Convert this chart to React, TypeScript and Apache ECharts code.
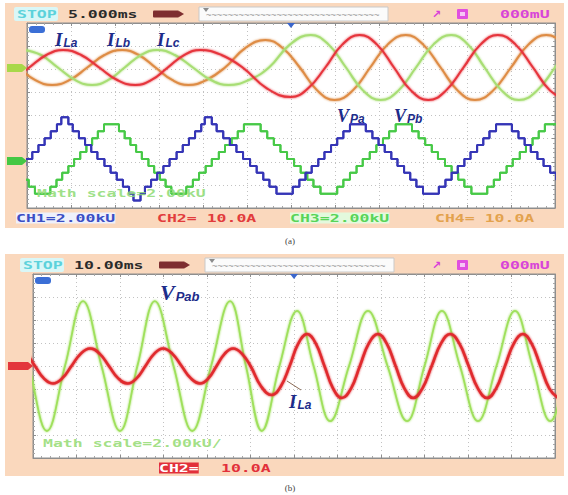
import React, { useEffect, useRef } from "react";
import * as echarts from "echarts";

type P = [number, number];

// ---------------- Panel (a): 5 ms/div (0..60 ms), currents 10 A/div, voltages 2 kV/div ----------------
const timeRangeA = [0, 60, 5];
const timeRangeB = [0, 120, 10];

// phase currents [ms, A]
const ilaA: P[] = [[-3.6, -7.6], [-1.7, -5.4], [0.25, 0], [2.2, 5.4], [4.1, 7.6], [6.15, 5.4], [8.2, 0], [10.25, -5.4], [12.3, -7.6], [14.15, -5.4], [16.0, 0], [17.85, 5.4], [19.7, 7.6], [22.1, 5.4], [24.5, 0], [27.25, -9.0], [30.0, -12.8], [31.95, -9.0], [33.9, 0], [35.85, 10.0], [37.8, 14.1], [39.75, 10.0], [41.7, 0], [43.65, -10.0], [45.6, -14.1], [47.6, -10.0], [49.6, 0], [51.55, 10.0], [53.5, 14.1], [55.5, 10.0], [57.5, 0], [59.45, -10.0], [61.4, -14.1]];
const ilbA: P[] = [[-4.9, 7.6], [-2.95, 5.4], [-1.0, 0], [0.9, -5.4], [2.85, -7.6], [4.85, -5.4], [6.85, 0], [8.8, 5.4], [10.8, 7.6], [12.7, 5.4], [14.6, 0], [16.5, -5.4], [18.35, -7.6], [20.4, -5.4], [22.5, 0], [24.8, 8.4], [27.1, 11.9], [29.05, 8.4], [31.0, 0], [33.0, -10.0], [34.95, -14.1], [37.0, -10.0], [39.0, 0], [41.0, 10.0], [43.05, 14.1], [45.0, 10.0], [47.0, 0], [48.95, -10.0], [50.9, -14.1], [52.95, -10.0], [55.0, 0], [57.0, 10.0], [59.0, 14.1], [61.0, 10.0], [63.0, 0]];
const ilcA: P[] = [[-0.35, 7.6], [1.6, 5.4], [3.5, 0], [5.45, -5.4], [7.4, -7.6], [9.25, -5.4], [11.1, 0], [12.95, 5.4], [14.8, 7.6], [16.8, 5.4], [18.85, 0], [20.9, -5.4], [22.9, -7.6], [25.2, -5.4], [27.5, 0], [29.9, 10.0], [32.25, 14.1], [34.25, 10.0], [36.25, 0], [38.2, -10.0], [40.2, -14.1], [42.2, -10.0], [44.2, 0], [46.2, 10.0], [48.2, 14.1], [50.1, 10.0], [52.0, 0], [53.95, -10.0], [55.9, -14.1], [57.95, -10.0], [60.0, 0], [61.95, 10.0], [63.9, 14.1]];

// multilevel phase voltages [ms, kV] (level holds until next point)
const vpaA: P[] = [[-5, -3.0], [-3.0, -2.4], [-2.3, -1.8], [-1.6, -1.2], [-0.9, -0.6], [-0.2, 0], [0.6, 0.6], [1.3, 1.2], [2.0, 1.8], [2.7, 2.4], [3.4, 3.0], [3.9, 3.6], [4.7, 3.0],
  [5.2, 2.4], [5.9, 1.8], [6.6, 1.2], [7.3, 0.6], [8.0, 0], [8.8, -0.6], [9.5, -1.2], [10.2, -1.8], [10.9, -2.4], [11.6, -3.0], [12.1, -3.6], [12.9, -3.0],
  [13.4, -2.4], [14.1, -1.8], [14.8, -1.2], [15.5, -0.6], [16.2, 0], [17.0, 0.6], [17.7, 1.2], [18.4, 1.8], [19.1, 2.4], [19.8, 3.0], [20.2, 3.6], [21.0, 3.0],
  [21.55, 2.4], [22.3, 1.8], [23.05, 1.2], [23.8, 0.6], [24.55, 0], [25.35, -0.6], [26.1, -1.2], [26.85, -1.8], [27.55, -2.4], [28.35, -3.0],
  [30.2, -2.4], [30.95, -1.8], [31.65, -1.2], [32.35, -0.6], [33.1, 0], [33.8, 0.6], [34.55, 1.2], [35.25, 1.8], [35.95, 2.4], [36.7, 3.0],
  [38.5, 2.4], [39.25, 1.8], [39.95, 1.2], [40.65, 0.6], [41.4, 0], [42.1, -0.6], [42.85, -1.2], [43.55, -1.8], [44.25, -2.4], [45.0, -3.0],
  [46.8, -2.4], [47.55, -1.8], [48.25, -1.2], [48.95, -0.6], [49.7, 0], [50.4, 0.6], [51.15, 1.2], [51.85, 1.8], [52.55, 2.4], [53.3, 3.0],
  [55.1, 2.4], [55.85, 1.8], [56.55, 1.2], [57.25, 0.6], [58.0, 0], [58.7, -0.6], [59.45, -1.2], [60.15, -1.8], [60.85, -2.4], [61.6, -3.0]];
const vpbA: P[] = [[-7, 3.0], [-5.5, 2.4], [-4.8, 1.8], [-4.1, 1.2], [-3.4, 0.6], [-2.7, 0], [-1.9, -0.6], [-1.2, -1.2], [-0.5, -1.8], [0.2, -2.4], [0.9, -3.0],
  [2.65, -2.4], [3.35, -1.8], [4.0, -1.2], [4.7, -0.6], [5.35, 0], [6.05, 0.6], [6.75, 1.2], [7.4, 1.8], [8.05, 2.4], [8.75, 3.0],
  [10.45, 2.4], [11.1, 1.8], [11.75, 1.2], [12.4, 0.6], [13.05, 0], [13.8, -0.6], [14.45, -1.2], [15.1, -1.8], [15.75, -2.4], [16.4, -3.0],
  [18.1, -2.4], [18.85, -1.8], [19.55, -1.2], [20.3, -0.6], [21.0, 0], [21.8, 0.6], [22.5, 1.2], [23.25, 1.8], [23.95, 2.4], [24.65, 3.0],
  [26.55, 2.4], [27.3, 1.8], [28.05, 1.2], [28.8, 0.6], [29.55, 0], [30.35, -0.6], [31.1, -1.2], [31.85, -1.8], [32.55, -2.4], [33.35, -3.0],
  [35.25, -2.4], [35.95, -1.8], [36.7, -1.2], [37.45, -0.6], [38.15, 0], [38.95, 0.6], [39.7, 1.2], [40.45, 1.8], [41.15, 2.4], [41.9, 3.0],
  [43.75, 2.4], [44.5, 1.8], [45.25, 1.2], [46.0, 0.6], [46.7, 0], [47.5, -0.6], [48.25, -1.2], [49.0, -1.8], [49.7, -2.4], [50.5, -3.0],
  [52.3, -2.4], [53.05, -1.8], [53.75, -1.2], [54.5, -0.6], [55.2, 0], [56.0, 0.6], [56.7, 1.2], [57.45, 1.8], [58.15, 2.4], [58.85, 3.0], [62, 3.0]];

// ---------------- Panel (b): 10 ms/div (0..120 ms), current 10 A/div, math 2 kV/div ----------------
const ilaB: P[] = [[-3.7, 7.6], [-1.6, 5.4], [0.45, 0], [2.5, -5.4], [4.6, -7.6], [6.7, -5.4], [8.85, 0], [11.0, 5.4], [13.1, 7.6], [15.3, 5.4], [17.45, 0], [19.6, -5.4], [21.8, -7.6], [23.8, -5.4], [25.85, 0], [27.9, 5.4], [29.9, 7.6], [32.0, 5.4], [34.15, 0], [36.3, -5.4], [38.4, -7.6], [40.3, -5.4], [42.2, 0], [44.1, 5.4], [46.0, 7.6], [48.0, 5.4], [50.0, 0], [52.45, -8.9], [54.9, -12.6], [56.95, -8.9], [59.0, 0], [61.0, 9.8], [63.0, 13.9], [65.0, 9.8], [67.0, 0], [69.0, -9.8], [71.0, -13.9], [73.1, -9.8], [75.15, 0], [77.2, 9.8], [79.3, 13.9], [81.3, 9.8], [83.35, 0], [85.4, -9.8], [87.4, -13.9], [89.5, -9.8], [91.65, 0], [93.8, 9.8], [95.9, 13.9], [98.0, 9.8], [100.15, 0], [102.3, -9.8], [104.4, -13.9], [106.45, -9.8], [108.5, 0], [110.55, 9.8], [112.6, 13.9], [114.6, 9.8], [116.65, 0], [118.7, -9.8], [120.7, -13.9]];
const vpabB: P[] = [[-5.1, 5.65], [-0.95, 0], [3.2, -5.65], [7.35, 0], [11.5, 5.65], [15.75, 0], [20.0, -5.65], [24.0, 0], [28.0, 5.65], [32.3, 0], [36.6, -5.65], [40.95, 0], [45.3, 5.65], [48.95, 0], [52.6, -5.65], [56.65, 0], [60.7, 4.8], [64.5, 0], [68.3, -4.8], [72.65, 0], [77.0, 4.8], [81.5, 0], [86.0, -4.8], [90.0, 0], [94.0, 4.8], [98.15, 0], [102.3, -4.8], [106.55, 0], [110.8, 4.8], [114.85, 0], [118.9, -4.8], [122.95, 0], [127, 4.8]];

// per-channel vertical windows (min, max) so each trace sits on its ground marker
const curRangeA = [-60.76, 19.24];
const voltRangeA = [-4.24, 11.76];
const curRangeB = [-40, 40];
const mathRangeB = [-8, 8];

const chLabelsA = ["CH1=2.00kU", "CH2= 10.0A", "CH3=2.00kU", "CH4= 10.0A"];
const chLabelB = ["CH2=", "10.0A"];
const timebase = ["5.000ms", "10.00ms"];
const trigText = "000mU";
const mathText = ["Math scale=2.00kU", "Math scale=2.00kU/"];

const NAVY = "#1d2c8a";
const PEACH = "#fad8bd";
const MONO = '"DejaVu Sans Mono"';

const gridLine = { show: true, lineStyle: { color: "#c2c2c2", type: [1, 3], width: 1 } };
const tickStyle = { show: true, inside: true, length: 3, lineStyle: { color: "#8e8e8e" } };
const minorTick = { show: true, splitNumber: 5, length: 2, lineStyle: { color: "#a6a6a6" } };

function xAx(grid: number, r: number[], position: string, split: boolean) {
  return {
    type: "value", gridIndex: grid, min: r[0], max: r[1], interval: r[2], position,
    axisLine: { show: true, onZero: false, lineStyle: { color: "#8e8e8e" } },
    axisTick: tickStyle, minorTick, axisLabel: { show: false },
    splitLine: split ? gridLine : { show: false },
  };
}
function yDiv(grid: number, position: string, split: boolean) {
  return {
    type: "value", gridIndex: grid, min: -4, max: 4, interval: 1, position,
    axisLine: { show: true, onZero: false, lineStyle: { color: "#8e8e8e" } },
    axisTick: tickStyle, minorTick, axisLabel: { show: false },
    splitLine: split ? gridLine : { show: false },
  };
}
function yHidden(grid: number, r: number[]) {
  return { type: "value", gridIndex: grid, min: r[0], max: r[1], show: false, splitLine: { show: false } };
}

function sineSeries(data: P[], x: number, y: number, color: string, width = 2, smooth = 0.45) {
  return {
    type: "line", xAxisIndex: x, yAxisIndex: y, data, smooth, symbol: "none",
    lineStyle: { color, width, shadowColor: color, shadowBlur: 2 }, z: 3,
  };
}
function stairSeries(data: P[], x: number, y: number, color: string) {
  return {
    type: "line", xAxisIndex: x, yAxisIndex: y, data, step: "end", symbol: "none",
    lineStyle: { color, width: 2, shadowColor: color, shadowBlur: 1.5 }, z: 3,
  };
}

function oscText(text: string, x: number, y: number, fill: string, extra: any = {}) {
  return {
    type: "text", x, y, scaleX: 1.5, z: 40,
    style: { text, fill, font: `bold 11px ${MONO}`, verticalAlign: "middle", ...extra },
  };
}
function subLabel(main: string, sub: string, x: number, y: number, ms: number, ss: number) {
  return {
    type: "text", x, y, z: 60,
    style: {
      text: `{m|${main}}{s|${sub}}`, verticalAlign: "middle",
      rich: {
        m: { fontSize: ms, fontFamily: "Liberation Serif", fontStyle: "italic", fontWeight: "bold", fill: NAVY },
        s: { fontSize: ss, fontFamily: "Liberation Sans", fontStyle: "italic", fontWeight: "bold", fill: NAVY, verticalAlign: "bottom", padding: [ms * 0.35, 0, 0, 1] },
      },
    },
  };
}
function topBar(y: number, xOff: number, tb: string) {
  return [
    { type: "rect", z: 20, shape: { x: 14 + xOff, y: y - 7, width: 44, height: 14, r: 2 }, style: { fill: "#d9f7f7" } },
    oscText("STOP", 17 + xOff, y, "#5cd2db", { scaleX: 1 }),
    oscText(tb, 68 + xOff, y, "#2b2b2b"),
    { type: "rect", z: 20, shape: { x: 153 + xOff, y: y - 3.5, width: 26, height: 7, r: 1 }, style: { fill: "#7e2e30" } },
    { type: "polygon", z: 20, shape: { points: [[179 + xOff, y - 3], [184 + xOff, y], [179 + xOff, y + 3]] }, style: { fill: "#7e2e30" } },
    { type: "rect", z: 20, shape: { x: 199 + xOff, y: y - 7, width: 189, height: 14 }, style: { fill: "#fbfbfb", stroke: "#c9c9c9", lineWidth: 1 } },
    { type: "text", z: 21, x: 206 + xOff, y: y + 1, style: { text: "~~~~~~~~~~~~~~~~~~~~~~~~~~~~~~~~", fill: "#9a9a9a", font: `9px ${MONO}`, verticalAlign: "middle" } },
    { type: "polygon", z: 21, shape: { points: [[203 + xOff, y - 6], [209 + xOff, y - 6], [206 + xOff, y - 2]] }, style: { fill: "#8c8c8c" } },
    { type: "text", z: 21, x: 432, y, style: { text: "↗", fill: "#d83fd8", font: "bold 11px DejaVu Sans", verticalAlign: "middle" } },
    { type: "rect", z: 21, shape: { x: 457, y: y - 5, width: 11, height: 10, r: 1 }, style: { fill: "#e04fe0" } },
    { type: "rect", z: 22, shape: { x: 460, y: y - 2, width: 5, height: 4 }, style: { fill: "#f6c6f6" } },
    oscText(trigText, 500, y, "#d844d8"),
  ];
}
function marker(x0: number, x1: number, yc: number, color: string) {
  return { type: "polygon", z: 25, shape: { points: [[x0, yc - 4], [x1 - 5, yc - 4], [x1, yc], [x1 - 5, yc + 4], [x0, yc + 4]] }, style: { fill: color } };
}

const option: any = {
  animation: false,
  backgroundColor: "#ffffff",
  grid: [
    { left: 27, top: 23, width: 528, height: 185, show: true, backgroundColor: "#ffffff", borderColor: "#8e8e8e", borderWidth: 1, outerBoundsMode: "none", containLabel: false },
    { left: 33, top: 274, width: 522, height: 184, show: true, backgroundColor: "#ffffff", borderColor: "#8e8e8e", borderWidth: 1, outerBoundsMode: "none", containLabel: false },
  ],
  xAxis: [xAx(0, timeRangeA, "bottom", true), xAx(0, timeRangeA, "top", false), xAx(1, timeRangeB, "bottom", true), xAx(1, timeRangeB, "top", false)],
  yAxis: [yDiv(0, "left", true), yDiv(0, "right", false), yHidden(0, curRangeA), yHidden(0, voltRangeA),
    yDiv(1, "left", true), yDiv(1, "right", false), yHidden(1, curRangeB), yHidden(1, mathRangeB)],
  series: [
    sineSeries(ilbA, 0, 2, "#de8c45"),
    sineSeries(ilcA, 0, 2, "#a8de74"),
    sineSeries(ilaA, 0, 2, "#e6343c"),
    stairSeries(vpbA, 0, 3, "#47c947"),
    stairSeries(vpaA, 0, 3, "#3434b6"),
    sineSeries(vpabB, 2, 7, "#9fe05c", 1.8, 0.4),
    sineSeries(ilaB, 2, 6, "#e02a2e", 2.6),
  ],
  graphic: [
    { type: "rect", z: -5, shape: { x: 5, y: 3, width: 559, height: 225 }, style: { fill: PEACH } },
    { type: "rect", z: -5, shape: { x: 5, y: 254, width: 559, height: 222 }, style: { fill: PEACH } },
    ...topBar(14, 0, timebase[0]),
    ...topBar(265, 6, timebase[1]),
    oscText(chLabelsA[0], 16, 218, "#3b4ec4", { backgroundColor: "#eef0fb" }),
    oscText(chLabelsA[1], 157, 218, "#e23c3c"),
    oscText(chLabelsA[2], 290, 218, "#58d458", { backgroundColor: "#e3f9dd" }),
    oscText(chLabelsA[3], 435, 218, "#e3a24d"),
    oscText(chLabelB[0], 159, 468, "#ffffff", { backgroundColor: "#e2303a" }),
    oscText(chLabelB[1], 221, 468, "#e2303a"),
    oscText(mathText[0], 37, 193, "#8edb74", { opacity: 0.85 }),
    oscText(mathText[1], 43, 443, "#98dc78", { opacity: 0.9 }),
    { type: "text", z: 40, x: 290, y: 241, style: { text: "(a)", fill: "#444", font: "9px Liberation Serif", align: "center", verticalAlign: "middle" } },
    { type: "text", z: 40, x: 290, y: 488, style: { text: "(b)", fill: "#444", font: "9px Liberation Serif", align: "center", verticalAlign: "middle" } },
    marker(7, 27, 68, "#a8d84a"),
    marker(7, 27, 161, "#44c844"),
    marker(8, 33, 366, "#e3363c"),
    { type: "rect", z: 45, shape: { x: 29, y: 26, width: 16, height: 7, r: 3 }, style: { fill: "#3b6fd6" } },
    { type: "rect", z: 45, shape: { x: 35, y: 277, width: 16, height: 7, r: 3 }, style: { fill: "#3b6fd6" } },
    { type: "polygon", z: 45, shape: { points: [[287, 23], [295, 23], [291, 28]] }, style: { fill: "#3a66cc" } },
    { type: "polygon", z: 45, shape: { points: [[290, 274], [298, 274], [294, 279]] }, style: { fill: "#3a66cc" } },
    subLabel("I", "La", 55, 39, 19, 12),
    subLabel("I", "Lb", 107, 39, 19, 12),
    subLabel("I", "Lc", 157, 39, 19, 12),
    subLabel("V", "Pa", 337, 116, 18, 12),
    subLabel("V", "Pb", 394, 116, 18, 12),
    subLabel("V", "Pab", 160, 292, 22, 13),
    subLabel("I", "La", 289, 401, 19, 12),
    { type: "line", z: 55, shape: { x1: 287, y1: 381, x2: 301, y2: 390 }, style: { stroke: "#8a6a55", lineWidth: 1 } },
  ],
};

export default function App() {
  const ref = useRef<HTMLDivElement>(null);
  useEffect(() => {
    const chart = echarts.init(ref.current as HTMLDivElement, null, { renderer: "svg" });
    chart.setOption(option);
    return () => chart.dispose();
  }, []);
  return <div ref={ref} style={{ position: "fixed", left: 0, top: 0, width: 568, height: 495, background: "#ffffff" }} />;
}
